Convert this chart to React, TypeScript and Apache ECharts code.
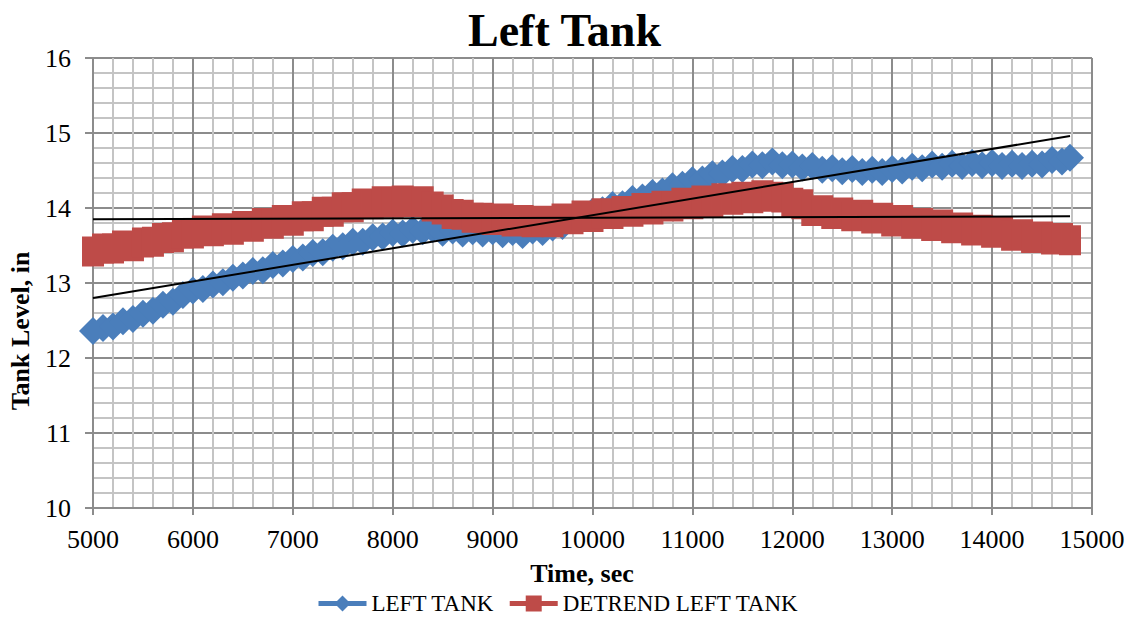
import React, { useEffect, useRef } from "react";
import * as echarts from "echarts";

// Sample times (sec)
const timeSec = [
  5000, 5100, 5200, 5300, 5400, 5500, 5600, 5700, 5800, 5900,
  6000, 6100, 6200, 6300, 6400, 6500, 6600, 6700, 6800, 6900,
  7000, 7100, 7200, 7300, 7400, 7500, 7600, 7700, 7800, 7900,
  8000, 8100, 8200, 8300, 8400, 8500, 8600, 8700, 8800, 8900,
  9000, 9100, 9200, 9300, 9400, 9500, 9600, 9700, 9800, 9900,
  10000, 10100, 10200, 10300, 10400, 10500, 10600, 10700, 10800, 10900,
  11000, 11100, 11200, 11300, 11400, 11500, 11600, 11700, 11800, 11900,
  12000, 12100, 12200, 12300, 12400, 12500, 12600, 12700, 12800, 12900,
  13000, 13100, 13200, 13300, 13400, 13500, 13600, 13700, 13800, 13900,
  14000, 14100, 14200, 14300, 14400, 14500, 14600, 14700, 14780,
];

// Measured left tank level (in)
const leftTank = [
  12.36, 12.40, 12.42, 12.49, 12.52, 12.59, 12.63, 12.71, 12.75, 12.84,
  12.90, 12.92, 12.98, 13.01, 13.07, 13.10, 13.16, 13.17, 13.24, 13.26,
  13.32, 13.34, 13.40, 13.41, 13.47, 13.49, 13.55, 13.55, 13.61, 13.62,
  13.67, 13.66, 13.71, 13.69, 13.72, 13.67, 13.70, 13.66, 13.69, 13.66,
  13.69, 13.65, 13.68, 13.64, 13.70, 13.68, 13.74, 13.76, 13.84, 13.88,
  13.95, 13.97, 14.04, 14.05, 14.12, 14.14, 14.20, 14.22, 14.29, 14.31,
  14.37, 14.38, 14.45, 14.46, 14.52, 14.52, 14.58, 14.57, 14.62, 14.57,
  14.58, 14.54, 14.56, 14.51, 14.53, 14.49, 14.52, 14.48, 14.51, 14.48,
  14.52, 14.50, 14.55, 14.53, 14.58, 14.55, 14.59, 14.56, 14.60, 14.57,
  14.60, 14.56, 14.59, 14.56, 14.59, 14.58, 14.64, 14.62, 14.67,
];

// Detrended left tank level (in)
const detrendLeftTank = [
  13.42, 13.46, 13.46, 13.50, 13.49, 13.54, 13.55, 13.60, 13.61, 13.66,
  13.66, 13.70, 13.69, 13.73, 13.71, 13.76, 13.75, 13.80, 13.79, 13.84,
  13.83, 13.89, 13.89, 13.95, 13.95, 14.01, 14.01, 14.06, 14.05, 14.09,
  14.07, 14.10, 14.08, 14.09, 14.02, 13.98, 13.92, 13.91, 13.87, 13.87,
  13.84, 13.86, 13.82, 13.84, 13.81, 13.83, 13.81, 13.86, 13.85, 13.90,
  13.88, 13.93, 13.92, 13.96, 13.95, 14.00, 13.98, 14.03, 14.02, 14.07,
  14.05, 14.10, 14.08, 14.13, 14.11, 14.15, 14.13, 14.17, 14.15, 14.14,
  14.07, 14.05, 13.96, 13.97, 13.92, 13.94, 13.89, 13.91, 13.86, 13.87,
  13.82, 13.84, 13.79, 13.80, 13.76, 13.78, 13.73, 13.74, 13.70, 13.71,
  13.67, 13.68, 13.63, 13.65, 13.60, 13.62, 13.58, 13.60, 13.57,
];

// Linear trend lines (end points)
const trendTime = [5000, 14780];
const leftTankTrend = [12.8, 14.96];
const detrendTrend = [13.85, 13.89];

const SERIF = "Liberation Serif, Times New Roman, serif";
const BLUE = "#4a7ebb";
const RED = "#be4b48";
const MAJOR_GRID = "#8c8c8c";
const MINOR_GRID = "#c4c4c4";

const pairs = (xs: number[], ys: number[]) => xs.map((x, i) => [x, ys[i]]);

export default function App() {
  const ref = useRef<HTMLDivElement>(null);

  useEffect(() => {
    document.body.style.margin = "0";
    if (!ref.current) return;
    const chart = echarts.init(ref.current, undefined, { renderer: "svg" });

    const labelStyle = {
      fontFamily: SERIF,
      fontSize: 26,
      color: "#000",
      formatter: (v: number) => String(v),
    };

    const axisCommon = {
      type: "value" as const,
      axisLine: { show: true, onZero: false, lineStyle: { color: MAJOR_GRID, width: 2 } },
      splitLine: { show: true, lineStyle: { color: MAJOR_GRID, width: 2 } },
      minorTick: { show: false, splitNumber: 5 },
      minorSplitLine: { show: true, lineStyle: { color: MINOR_GRID, width: 2 } },
    };

    chart.setOption({
      animation: false,
      backgroundColor: "#ffffff",
      textStyle: { fontFamily: SERIF },
      title: {
        text: "Left Tank",
        left: "center",
        top: 2,
        textStyle: { fontFamily: SERIF, fontWeight: "bold", fontSize: 46, color: "#000" },
      },
      grid: { left: 93, right: 37, top: 58, bottom: 110, containLabel: false },
      xAxis: {
        ...axisCommon,
        min: 5000,
        max: 15000,
        interval: 1000,
        axisTick: { show: true, length: 7, lineStyle: { color: MAJOR_GRID, width: 2 } },
        axisLabel: { ...labelStyle, margin: 18 },
      },
      yAxis: {
        ...axisCommon,
        min: 10,
        max: 16,
        interval: 1,
        axisTick: { show: true, length: 8, lineStyle: { color: MAJOR_GRID, width: 2 } },
        axisLabel: { ...labelStyle, margin: 22 },
      },
      legend: {
        data: ["LEFT TANK", "DETREND LEFT TANK"],
        left: 316,
        top: 592,
        padding: 0,
        itemWidth: 48,
        itemHeight: 20,
        itemGap: 13,
        lineStyle: { width: 5 },
        textStyle: { fontFamily: SERIF, fontSize: 23, color: "#000", lineHeight: 23 },
      },
      graphic: [
        {
          type: "text",
          x: 20,
          y: 331,
          rotation: Math.PI / 2,
          style: {
            text: "Tank Level, in",
            fontFamily: SERIF,
            fontSize: 26,
            fontWeight: "bold",
            fill: "#000",
            textAlign: "center",
            textVerticalAlign: "middle",
          },
        },
        {
          type: "text",
          x: 582,
          y: 573,
          style: {
            text: "Time, sec",
            fontFamily: SERIF,
            fontSize: 26,
            fontWeight: "bold",
            fill: "#000",
            textAlign: "center",
            textVerticalAlign: "middle",
          },
        },
      ],
      series: [
        {
          name: "LEFT TANK",
          type: "line",
          data: pairs(timeSec, leftTank),
          symbol: "diamond",
          symbolSize: 28,
          showSymbol: true,
          lineStyle: { color: BLUE, width: 5 },
          itemStyle: { color: BLUE },
          z: 2,
          silent: true,
        },
        {
          name: "DETREND LEFT TANK",
          type: "line",
          data: pairs(timeSec, detrendLeftTank),
          symbol: "rect",
          symbolSize: [22, 30],
          showSymbol: true,
          lineStyle: { color: RED, width: 5 },
          itemStyle: { color: RED },
          z: 3,
          silent: true,
        },
        {
          name: "Linear (LEFT TANK)",
          type: "line",
          data: pairs(trendTime, leftTankTrend),
          symbol: "none",
          lineStyle: { color: "#000", width: 2 },
          z: 4,
          silent: true,
        },
        {
          name: "Linear (DETREND LEFT TANK)",
          type: "line",
          data: pairs(trendTime, detrendTrend),
          symbol: "none",
          lineStyle: { color: "#000", width: 2 },
          z: 4,
          silent: true,
        },
      ],
    });

    return () => chart.dispose();
  }, []);

  return <div ref={ref} style={{ width: 1129, height: 618 }} />;
}
